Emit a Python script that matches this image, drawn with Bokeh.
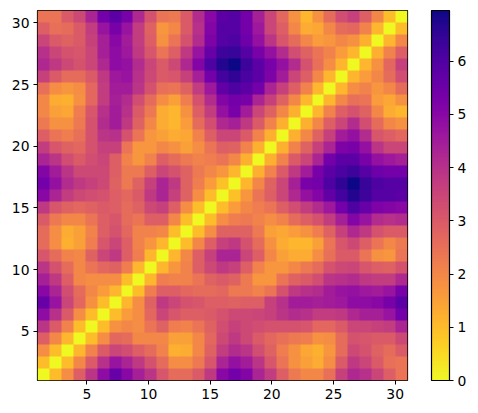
import numpy as np
from bokeh.plotting import figure
from bokeh.models import LinearColorMapper, ColorBar, FixedTicker
from bokeh.palettes import Plasma256
from bokeh.embed import file_html
from bokeh.resources import INLINE

# Upper-left triangle of the symmetric distance matrix, read row by row from the top of the picture
row_00 = [2.4,2.4,3.0,3.4,4.3,5.4,5.8,5.3,4.2,3.2,2.4,2.3,3.0,4.1,5.0,5.8,5.9,5.4,4.4,3.5,2.7,1.8,1.1,1.8,2.6,3.3,3.6,2.9,2.0,1.0,0]
row_01 = [2.9,2.5,2.6,3.0,3.7,4.7,5.3,4.7,3.7,2.8,1.7,2.0,3.0,4.0,5.1,5.9,5.9,5.4,4.6,3.5,2.9,2.0,1.3,1.4,2.0,2.6,2.7,2.1,1.1,0]
row_02 = [3.5,3.0,2.8,3.0,3.6,4.4,5.0,4.5,3.7,2.9,1.8,2.4,3.2,4.1,5.2,5.9,6.0,5.5,4.8,3.9,3.1,2.6,2.0,1.6,1.7,2.0,1.8,1.2,0]
row_03 = [4.0,3.5,3.2,3.1,3.5,4.4,4.9,4.6,3.8,3.1,2.4,2.9,3.8,4.7,5.6,6.3,6.4,5.9,5.3,4.8,4.1,3.3,2.8,2.4,2.1,1.6,1.1,0]
row_04 = [4.2,3.8,3.4,3.2,3.5,4.2,4.9,4.8,4.1,3.5,3.0,3.4,4.2,5.1,6.0,6.7,6.95,6.3,5.8,5.3,4.8,4.1,3.2,2.5,1.9,1.1,0]
row_05 = [3.6,3.0,2.6,2.6,3.0,3.8,4.6,4.7,4.0,3.4,3.0,3.1,3.6,4.4,5.4,6.2,6.5,6.1,5.8,5.2,4.5,3.5,2.9,2.0,1.1,0]
row_06 = [2.5,1.9,1.7,1.9,2.7,3.7,4.5,4.5,3.9,3.2,2.5,2.4,2.8,3.7,4.6,5.7,6.0,5.8,5.4,4.3,3.6,2.9,2.1,1.1,0]
row_07 = [2.0,1.3,1.2,1.8,2.7,3.7,4.4,4.1,3.3,2.6,1.9,1.5,2.2,3.2,4.1,5.1,5.4,5.3,4.3,3.6,2.8,2.0,1.1,0]
row_08 = [2.0,1.5,1.4,2.2,3.1,4.0,4.5,4.0,3.0,2.3,1.3,1.1,1.8,2.9,3.7,4.8,5.3,4.5,3.5,2.8,2.0,1.2,0]
row_09 = [2.3,1.8,1.8,2.3,3.2,4.1,4.5,3.8,2.8,2.0,1.3,1.1,1.6,2.6,3.3,4.2,4.4,3.8,3.0,2.1,1.2,0]
row_10 = [2.9,2.4,2.2,2.5,3.2,3.9,4.0,3.2,2.4,1.7,1.5,1.3,1.4,2.1,2.9,3.5,3.5,3.0,2.1,1.2,0]
row_11 = [3.7,3.1,2.8,2.7,3.2,3.6,3.6,2.4,1.7,1.7,2.0,1.8,1.5,1.9,2.4,2.9,2.8,2.1,1.2,0]
row_12 = [4.3,3.9,3.3,3.0,3.3,3.5,2.9,2.1,1.7,2.1,2.9,2.6,2.3,2.1,2.2,2.4,2.0,1.2,0]
row_13 = [5.1,4.5,3.9,3.4,3.4,3.4,2.9,2.3,2.3,2.9,3.5,3.2,2.8,2.3,2.0,1.7,1.1,0]
row_14 = [5.4,4.8,4.1,3.8,3.6,3.4,2.8,2.3,2.8,3.6,4.3,3.8,2.8,2.2,1.6,0.9,0]
row_15 = [5.0,4.3,3.7,3.4,3.3,3.2,2.9,2.7,3.0,3.8,4.3,3.6,2.8,1.9,1.0,0]
row_16 = [3.8,3.1,2.8,2.7,2.8,3.0,2.9,2.6,2.8,3.4,3.6,2.9,1.9,1.0,0]
row_17 = [3.0,2.3,2.0,2.0,2.4,2.9,3.1,2.6,2.4,2.9,2.9,2.0,1.0,0]
row_18 = [2.6,1.9,1.3,1.5,2.1,2.9,3.2,2.7,2.1,2.1,2.0,1.0,0]
row_19 = [2.6,1.9,1.2,1.5,2.2,3.1,3.5,2.9,2.1,1.7,1.1,0]
row_20 = [3.1,2.6,2.1,2.0,2.8,3.5,3.8,2.9,2.2,1.1,0]
row_21 = [3.9,3.2,2.6,2.0,2.4,2.7,2.8,2.2,1.1,0]
row_22 = [4.4,3.8,2.9,2.0,1.9,1.9,1.9,1.0,0]
row_23 = [5.0,4.3,3.3,2.6,2.0,1.6,1.1,0]
row_24 = [5.6,4.7,3.5,2.7,1.8,1.0,0]
row_25 = [4.9,4.0,3.0,1.9,1.0,0]
row_26 = [3.9,3.0,2.1,1.0,0]
row_27 = [2.9,2.0,1.1,0]
row_28 = [1.9,1.0,0]
row_29 = [1.0,0]
row_30 = [0]
triangle = [row_00,row_01,row_02,row_03,row_04,row_05,row_06,row_07,row_08,row_09,
            row_10,row_11,row_12,row_13,row_14,row_15,row_16,row_17,row_18,row_19,
            row_20,row_21,row_22,row_23,row_24,row_25,row_26,row_27,row_28,row_29,row_30]
axis_ticks = [5, 10, 15, 20, 25, 30]
colorbar_ticks = [0, 1, 2, 3, 4, 5, 6]
value_max = 6.95

n = len(triangle)
matrix = np.zeros((n, n))
for t, row in enumerate(triangle):
    for c, v in enumerate(row):
        # rows of the image array run from the bottom of the plot upward
        matrix[n - 1 - t, c] = v
        matrix[c, n - 1 - t] = v

mapper = LinearColorMapper(palette=list(reversed(Plasma256)), low=0, high=value_max)

p = figure(frame_width=370, frame_height=370, x_range=(1, 31), y_range=(1, 31),
           output_backend="svg", toolbar_location=None,
           min_border_left=37, min_border_top=10, min_border_bottom=0, min_border_right=60)
p.image(image=[matrix], x=1, y=1, dw=30, dh=30, color_mapper=mapper)

p.grid.visible = False
for ax in (p.xaxis[0], p.yaxis[0]):
    ax.ticker = FixedTicker(ticks=axis_ticks)
    ax.major_tick_in = 0
    ax.major_tick_out = 4
    ax.minor_tick_line_color = None
    ax.major_tick_line_color = "black"
    ax.major_tick_line_width = 1
    ax.axis_line_color = None
    ax.major_label_text_font = "DejaVu Sans"
    ax.major_label_text_font_size = "13.9px"
    ax.major_label_text_color = "black"
    ax.major_label_standoff = 4
p.yaxis[0].major_label_orientation = "horizontal"
p.outline_line_color = "black"
p.outline_line_width = 1.2
p.outline_line_alpha = 1

cb = ColorBar(color_mapper=mapper, ticker=FixedTicker(ticks=colorbar_ticks),
              width=18, height=370, location=(24, 0), margin=0, padding=0,
              major_tick_in=0, major_tick_out=4, major_tick_line_color="black", major_tick_line_width=1,
              minor_tick_line_color=None, bar_line_color="black", bar_line_width=1.2,
              label_standoff=4, major_label_text_font="DejaVu Sans",
              major_label_text_font_size="13.9px", major_label_text_color="black",
              background_fill_color=None, border_line_color=None)
p.add_layout(cb, "right")

open("out.html", "w").write(file_html(p, INLINE))
